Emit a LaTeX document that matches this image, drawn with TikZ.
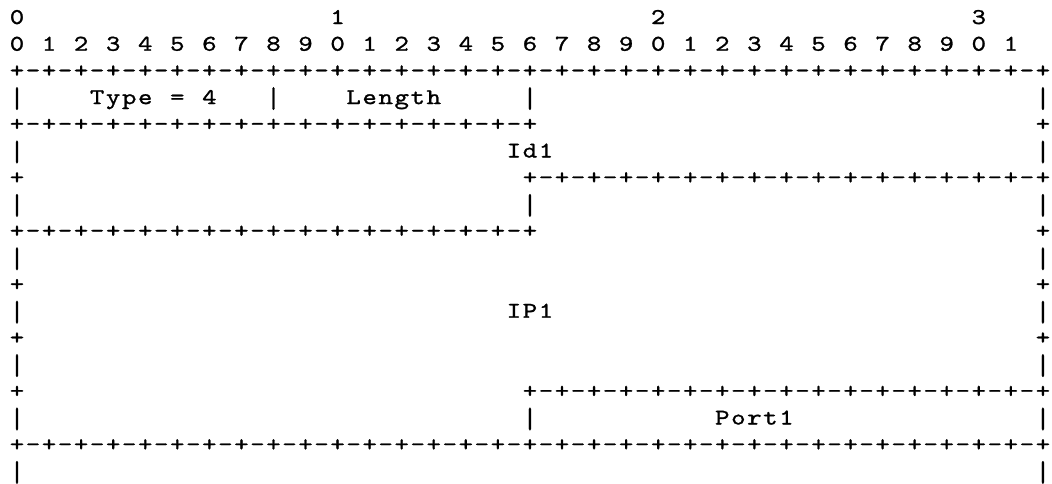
\documentclass[tikz,border=0pt]{standalone}
\usepackage{fontspec}
\newfontfamily\asciifont{lmmono10-regular.otf}[FakeBold=1.2,FakeStretch=1.22]
\tikzset{ch/.style={anchor=base,inner sep=0pt,font=\asciifont\fontsize{22.5pt}{22.5pt}\selectfont},
  barch/.style={anchor=center,inner sep=0pt,yscale=1.3,font=\asciifont\fontsize{22.5pt}{22.5pt}\selectfont}}
\newcommand\pc[3]{\node[ch] at ({17pt+(#1)*16.03pt},{-24pt-(#2-1)*26.7pt}) {#3};}
\newcommand\pb[2]{\node[barch] at ({17pt+(#1)*16.03pt},{-18.5pt-(#2-1)*26.7pt}) {|};}
\newcommand\dashrow[3]{\foreach \j in {#2,...,#3} {\ifodd\j \pc{\j}{#1}{-}\else \pc{\j}{#1}{+}\fi}}
\newcommand\word[3]{\foreach[count=\k from 0] \ch in {#3} {\pc{#1+\k}{#2}{\ch}}}
\begin{document}
\begin{tikzpicture}
\useasboundingbox[fill=white] (0pt,0pt) rectangle (1052pt,-483pt);
% row 1
\pc{0}{1}{0}\pc{20}{1}{1}\pc{40}{1}{2}\pc{60}{1}{3}
% row 2
\foreach \i in {0,...,31} {\pgfmathtruncatemacro\dg{mod(\i,10)}\pc{2*\i}{2}{\dg}}
% row 3
\dashrow{3}{0}{64}
% row 4
\pb{0}{4}\pb{16}{4}\pb{32}{4}\pb{64}{4}
\word{5}{4}{T,y,p,e}\pc{10}{4}{=}\pc{12}{4}{4}
\word{21}{4}{L,e,n,g,t,h}
% row 5
\dashrow{5}{0}{32}\pc{64}{5}{+}
% row 6
\pb{0}{6}\pb{64}{6}\word{31}{6}{I,d,1}
% row 7
\pc{0}{7}{+}\dashrow{7}{32}{64}
% row 8
\pb{0}{8}\pb{32}{8}\pb{64}{8}
% row 9
\dashrow{9}{0}{32}\pc{64}{9}{+}
% rows 10-14
\pb{0}{10}\pb{64}{10}
\pc{0}{11}{+}\pc{64}{11}{+}
\pb{0}{12}\pb{64}{12}\word{31}{12}{I,P,1}
\pc{0}{13}{+}\pc{64}{13}{+}
\pb{0}{14}\pb{64}{14}
% row 15
\pc{0}{15}{+}\dashrow{15}{32}{64}
% row 16
\pb{0}{16}\pb{32}{16}\pb{64}{16}\word{44}{16}{P,o,r,t,1}
% row 17
\dashrow{17}{0}{64}
% row 18
\pb{0}{18}\pb{64}{18}
\end{tikzpicture}
\end{document}
